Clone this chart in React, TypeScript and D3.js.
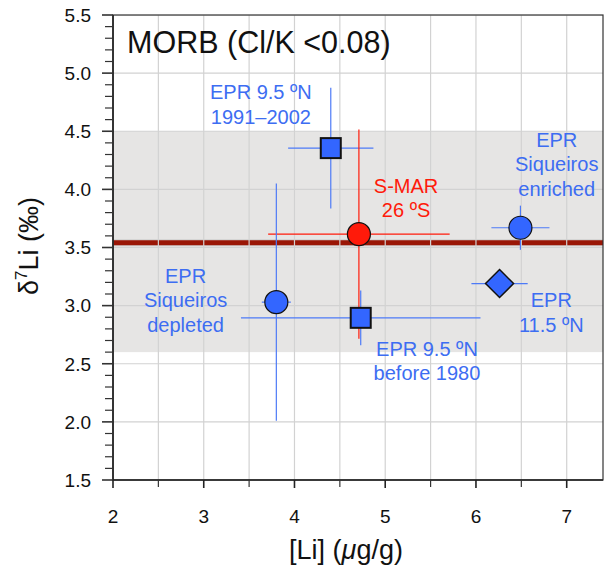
import React from "react";
import * as d3 from "d3";

// ---- Data ----
const sampleNames = [
  "EPR 9.5 ºN 1991–2002",
  "S-MAR 26 ºS",
  "EPR Siqueiros enriched",
  "EPR 11.5 ºN",
  "EPR 9.5 ºN before 1980",
  "EPR Siqueiros depleted",
];
const liValues = [4.4, 4.71, 6.49, 6.26, 4.73, 3.8];
const d7LiValues = [4.355, 3.615, 3.67, 3.19, 2.895, 3.03];
const liErrors = [0.47, 1.0, 0.32, 0.31, 1.32, 0.16];
const d7LiErrors = [0.52, 0.9, 0.19, 0, 0.235, 1.02];
const markerShapes = ["square", "circle", "circle", "diamond", "square", "circle"];
const sampleGroups = ["EPR", "MAR", "EPR", "EPR", "EPR", "EPR"];

const morbMean = 3.54;
const morbRange = [2.6, 4.5];

const xTicks = [2, 3, 4, 5, 6, 7];
const yTicks = [1.5, 2.0, 2.5, 3.0, 3.5, 4.0, 4.5, 5.0, 5.5];

// label lines and anchor (data units)
const labelLines = [
  ["EPR 9.5 ºN", "1991–2002"],
  ["S-MAR", "26 ºS"],
  ["EPR", "Siqueiros", "enriched"],
  ["EPR", "11.5 ºN"],
  ["EPR 9.5 ºN", "before 1980"],
  ["EPR", "Siqueiros", "depleted"],
];
const labelX = [3.63, 5.23, 6.89, 6.83, 5.46, 2.8];
const labelY = [4.777, 3.969, 4.367, 2.986, 2.567, 3.195];

const W = 604;
const H = 572;
const FONT = "'Liberation Sans', Arial, Helvetica, sans-serif";

export default function App() {
  const x = d3.scaleLinear().domain([2, 7.4]).range([113, 603]);
  const y = d3.scaleLinear().domain([1.5, 5.5]).range([480, 15]);

  const xGrid = d3.range(2, 7.5 + 1e-9, 0.5);
  const yGrid = d3.range(1.5, 5.5 + 1e-9, 0.5);
  const yMinor = d3.range(1.5, 5.5 + 1e-9, 0.1);
  const xMinor = d3.range(2.5, 7.5, 1);

  const blue = "#3366ff";
  const blueLine = "#4d7af7";
  const blueText = "#3d6df2";
  const red = "#ff1a0a";

  const color = (g: string) => (g === "MAR" ? red : blueLine);
  const fill = (g: string) => (g === "MAR" ? red : blue);
  const textColor = (g: string) => (g === "MAR" ? red : blueText);

  const x0 = x(2);
  const x1 = 603;
  const y0 = y(1.5);
  const y1 = y(5.5);

  return (
    <svg
      width={W}
      height={H}
      style={{ position: "absolute", left: 0, top: 0, display: "block", background: "#fff" }}
      fontFamily={FONT}
    >
      <defs>
        <clipPath id="plot">
          <rect x={x0} y={y1} width={x1 - x0} height={y0 - y1} />
        </clipPath>
      </defs>
      {/* shaded MORB range */}
      <rect
        x={x0}
        y={y(morbRange[1])}
        width={x1 - x0}
        height={y(morbRange[0]) - y(morbRange[1])}
        fill="#e6e5e4"
      />
      {/* MORB mean line */}
      <line x1={x0} x2={x1} y1={y(morbMean)} y2={y(morbMean)} stroke="#cfcfcf" strokeWidth={7} />
      <line x1={x0} x2={x1} y1={y(morbMean)} y2={y(morbMean)} stroke="#9a1606" strokeWidth={5} />
      {/* grid */}
      <g clipPath="url(#plot)">
        {xGrid.map((v) => (
          <line key={"gx" + v} x1={x(v)} x2={x(v)} y1={y1} y2={y0} stroke="#d2d2d2" strokeWidth={1.2} />
        ))}
        {yGrid.map((v) => (
          <line key={"gy" + v} x1={x0} x2={x1} y1={y(v)} y2={y(v)} stroke="#d2d2d2" strokeWidth={1.2} />
        ))}
      </g>

      {/* error bars */}
      <g clipPath="url(#plot)">
        {liValues.map((lv, i) => {
          const c = color(sampleGroups[i]);
          return (
            <g key={"e" + i}>
              <line
                x1={x(lv - liErrors[i])}
                x2={x(lv + liErrors[i])}
                y1={y(d7LiValues[i])}
                y2={y(d7LiValues[i])}
                stroke={c}
                strokeWidth={1.2}
              />
              {d7LiErrors[i] > 0 && (
                <line
                  x1={x(lv)}
                  x2={x(lv)}
                  y1={y(d7LiValues[i] - d7LiErrors[i])}
                  y2={y(d7LiValues[i] + d7LiErrors[i])}
                  stroke={c}
                  strokeWidth={1.2}
                />
              )}
            </g>
          );
        })}
      </g>

      {/* markers */}
      {liValues.map((lv, i) => {
        const cx = x(lv);
        const cy = y(d7LiValues[i]);
        const f = fill(sampleGroups[i]);
        const s = markerShapes[i];
        if (s === "circle")
          return <circle key={"m" + i} cx={cx} cy={cy} r={11.5} fill={f} stroke="#111" strokeWidth={1.2} />;
        if (s === "square")
          return (
            <rect key={"m" + i} x={cx - 10} y={cy - 10} width={20} height={20} fill={f} stroke="#111" strokeWidth={2} />
          );
        return (
          <path
            key={"m" + i}
            d={`M${cx},${cy - 14}L${cx + 14},${cy}L${cx},${cy + 14}L${cx - 14},${cy}Z`}
            fill={f}
            stroke="#111"
            strokeWidth={1.5}
          />
        );
      })}

      {/* sample labels */}
      {labelLines.map((lines, i) => (
        <text
          key={"l" + i}
          x={x(labelX[i])}
          y={y(labelY[i])}
          textAnchor="middle"
          fontSize={20}
          fill={textColor(sampleGroups[i])}
        >
          {lines.map((t, j) => (
            <tspan key={j} x={x(labelX[i])} dy={j === 0 ? 0 : 24.5}>
              {t}
            </tspan>
          ))}
        </text>
      ))}

      {/* frame */}
      <rect x={x0} y={y1} width={x1 - x0} height={y0 - y1} fill="none" stroke="#333" strokeWidth={1.2} />
      <line x1={x0} x2={x0} y1={y1} y2={y0} stroke="#222" strokeWidth={1.6} />
      <line x1={x0} x2={x1} y1={y0} y2={y0} stroke="#222" strokeWidth={1.6} />

      {/* y ticks */}
      {yMinor.map((v) => {
        const major = Math.abs(v * 2 - Math.round(v * 2)) < 1e-6;
        return (
          <line
            key={"yt" + v.toFixed(2)}
            x1={x0 - (major ? 11 : 8)}
            x2={x0}
            y1={y(v)}
            y2={y(v)}
            stroke="#333"
            strokeWidth={major ? 1.6 : 1.2}
          />
        );
      })}
      {yTicks.map((v) => (
        <text key={"yl" + v} x={91} y={y(v)} dy="0.36em" textAnchor="end" fontSize={19} fill="#111">
          {d3.format(".1f")(v)}
        </text>
      ))}

      {/* x ticks */}
      {xTicks.map((v) => (
        <line key={"xt" + v} x1={x(v)} x2={x(v)} y1={y0} y2={y0 + 8} stroke="#222" strokeWidth={1.6} />
      ))}
      {xMinor.map((v) => (
        <line key={"xm" + v} x1={x(v)} x2={x(v)} y1={y0} y2={y0 + 7} stroke="#333" strokeWidth={1.2} />
      ))}
      {xTicks.map((v) => (
        <text key={"xl" + v} x={x(v)} y={523} textAnchor="middle" fontSize={19} fill="#111">
          {d3.format("d")(v)}
        </text>
      ))}

      {/* title */}
      <text x={127} y={53} fontSize={30.5} fill="#111">
        MORB (Cl/K &lt;0.08)
      </text>

      {/* axis titles */}
      <text x={346} y={559} textAnchor="middle" fontSize={27} fill="#111">
        [Li] (<tspan fontStyle="italic">μ</tspan>g/g)
      </text>
      <text transform="translate(38,246) rotate(-90)" textAnchor="middle" fontSize={27} fill="#111">
        δ<tspan fontSize={17} dy={-11}>7</tspan>
        <tspan dy={11}>Li (‰)</tspan>
      </text>
    </svg>
  );
}
